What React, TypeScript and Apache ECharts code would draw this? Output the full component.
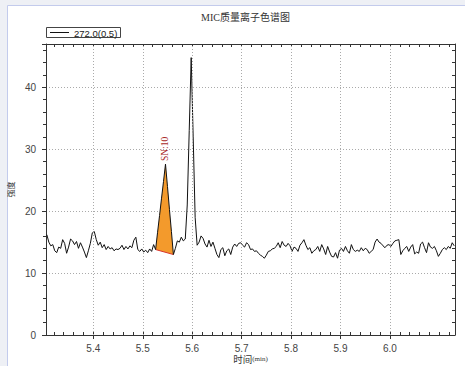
import React, { useEffect, useRef } from "react";
import * as echarts from "echarts";

const CHART_TITLE = "MIC质量离子色谱图";
const LEGEND_LABEL = "272.0(0.5)";
const X_NAME_MAIN = "时间";
const X_NAME_UNIT = "(min)";
const Y_NAME = "强度";
const PEAK_LABEL = "SN:10";

const X_MIN = 5.3043;
const X_MAX = 6.1316;
const Y_MIN = 0;
const Y_MAX = 47;
const X_MAJOR = [5.4, 5.5, 5.6, 5.7, 5.8, 5.9, 6.0];
const X_MINOR = [
  5.32, 5.34, 5.36, 5.38, 5.42, 5.44, 5.46, 5.48, 5.52, 5.54, 5.56, 5.58,
  5.62, 5.64, 5.66, 5.68, 5.72, 5.74, 5.76, 5.78, 5.82, 5.84, 5.86, 5.88,
  5.92, 5.94, 5.96, 5.98, 6.02, 6.04, 6.06, 6.08, 6.1, 6.12,
];

// sampled signal: time of first sample and sampling step (min)
const TIME_START = 5.306;
const TIME_STEP = 0.004;
const INTENSITY = [
  16.2, 15.0, 14.4, 14.6, 13.6, 13.3, 14.2, 14.0, 15.4, 14.8,
  13.2, 14.2, 15.5, 15.2, 14.6, 15.1, 14.0, 14.9, 14.2, 13.4,
  12.5, 13.6, 14.8, 16.5, 16.7, 15.4, 14.5, 15.0, 14.1, 14.6,
  13.8, 14.3, 13.9, 14.1, 13.6, 13.9, 13.8, 14.0, 14.5, 13.8,
  14.3, 13.9, 14.4, 14.1, 15.3, 15.8, 13.8, 13.5, 13.9, 13.4,
  13.7, 13.3, 13.9, 13.5, 14.6, 13.8, 16.6, 19.3, 22.1, 24.8,
  27.6, 24.0, 20.3, 16.7, 13.0, 14.0, 15.2, 15.0, 15.8, 15.2,
  15.5, 21.0, 33.0, 44.8, 32.0, 19.0, 14.5, 15.0, 16.0, 15.6,
  14.7, 14.2, 15.3, 14.3, 15.0, 14.0, 13.0, 12.5, 13.8, 14.1,
  12.8, 13.6, 13.9, 13.0, 14.2, 14.7, 14.3, 14.8, 14.9, 14.5,
  14.2, 14.9, 14.6, 13.8, 13.9, 13.5, 13.6, 13.2, 12.9, 12.7,
  12.4, 12.9, 13.5, 13.6, 13.9, 14.0, 14.3, 14.9, 14.1, 15.1,
  14.5, 14.3, 14.8, 14.4, 13.5, 14.2, 14.0, 13.5, 14.5, 14.9,
  15.4, 14.5, 13.8, 14.1, 13.2, 13.6, 13.8, 14.3, 13.5, 14.6,
  13.9, 13.0, 14.3, 13.4, 12.7, 12.6, 13.3, 12.4, 13.7, 14.0,
  13.5, 14.3, 13.6, 13.2, 14.6, 13.8, 13.5, 13.7, 13.5, 14.1,
  13.6, 14.0, 13.8, 13.2, 13.5, 13.8, 15.0, 15.5, 15.0, 14.8,
  14.4, 14.1, 14.5, 14.6, 14.3, 14.8, 15.2, 15.3, 15.4, 13.0,
  13.6, 14.0, 14.3, 13.5, 14.2, 14.6, 13.1, 13.4, 13.2, 14.7,
  15.0, 14.1, 13.3, 14.9, 14.2, 14.0, 14.3, 13.6, 12.7, 13.2,
  13.8, 14.1, 13.8, 14.3, 14.0, 14.9, 14.4,
];

// integrated peak (sample indices)
const SN_START = 55;
const SN_APEX = 60;
const SN_END = 64;

const AXIS_COLOR = "#333";
const LABEL_FONT = "Liberation Sans, Arial, sans-serif";

export default function App() {
  const ref = useRef<HTMLDivElement>(null);

  useEffect(() => {
    if (!ref.current) return;
    const chart = echarts.init(ref.current, null, { renderer: "svg" });
    const seriesData = INTENSITY.map((v, i) => [TIME_START + i * TIME_STEP, v]);
    const apexT = TIME_START + SN_APEX * TIME_STEP;

    const xBase = {
      type: "value",
      min: X_MIN,
      max: X_MAX,
      splitLine: { show: false },
    };
    const yBase = {
      type: "value",
      min: Y_MIN,
      max: Y_MAX,
      interval: 10,
    };

    chart.setOption({
      animation: false,
      backgroundColor: "#eef0f5",
      title: {
        text: CHART_TITLE,
        left: 196,
        top: 7,
        textStyle: {
          fontSize: 10,
          fontWeight: "normal",
          color: "#333",
          fontFamily: "Liberation Serif, Noto Sans CJK SC, serif",
        },
      },
      graphic: [
        {
          type: "rect",
          z: -100,
          silent: true,
          shape: { x: 7.5, y: 5.5, width: 470, height: 370 },
          style: { fill: "#ffffff", stroke: "#c3cbec", lineWidth: 1 },
        },
        {
          type: "group",
          silent: true,
          children: [
            {
              type: "rect",
              shape: { x: 46.5, y: 27.5, width: 74, height: 10 },
              style: { fill: "#fff", stroke: "#444", lineWidth: 1 },
            },
            {
              type: "line",
              shape: { x1: 50, y1: 32.5, x2: 69, y2: 32.5 },
              style: { stroke: "#111", lineWidth: 1 },
            },
            {
              type: "text",
              x: 74,
              y: 33,
              style: {
                text: LEGEND_LABEL,
                font: "9.5px " + LABEL_FONT,
                fill: "#222",
                verticalAlign: "middle",
                align: "left",
              },
            },
          ],
        },
      ],
      grid: {
        left: 46,
        top: 44,
        right: 10,
        bottom: 31,
        containLabel: false,
        outerBoundsMode: "none",
      },
      xAxis: [
        {
          ...xBase,
          position: "bottom",
          name: `{a|${X_NAME_MAIN}}{b|${X_NAME_UNIT}}`,
          nameLocation: "middle",
          nameGap: 19,
          nameMoveOverlap: false,
          nameTextStyle: {
            lineHeight: 10,
            rich: {
              a: { fontSize: 9.5, lineHeight: 10, color: "#333", fontFamily: "Noto Sans CJK SC" },
              b: { fontSize: 7, lineHeight: 10, color: "#333", fontFamily: "Liberation Serif" },
            },
          },
          axisLine: { show: true, lineStyle: { color: AXIS_COLOR, width: 1 } },
          axisTick: {
            show: true,
            customValues: X_MAJOR,
            length: 4,
            inside: false,
            lineStyle: { color: AXIS_COLOR },
          },
          axisLabel: {
            customValues: X_MAJOR,
            formatter: (v: number) => v.toFixed(1),
            fontSize: 10,
            lineHeight: 10,
            color: "#444",
            fontFamily: LABEL_FONT,
            margin: 8,
          },
        },
        {
          ...xBase,
          position: "bottom",
          axisLine: { show: false },
          axisTick: {
            show: true,
            customValues: X_MINOR.concat(X_MAJOR),
            length: 3,
            inside: true,
            lineStyle: { color: AXIS_COLOR },
          },
          axisLabel: { show: false },
        },
        {
          ...xBase,
          position: "top",
          axisLine: { show: true, lineStyle: { color: AXIS_COLOR, width: 1 } },
          axisTick: {
            show: true,
            customValues: X_MINOR.concat(X_MAJOR),
            length: 3,
            inside: true,
            lineStyle: { color: AXIS_COLOR },
          },
          axisLabel: { show: false },
        },
      ],
      yAxis: [
        {
          ...yBase,
          position: "left",
          name: Y_NAME,
          nameLocation: "middle",
          nameGap: 32,
          nameRotate: 90,
          nameMoveOverlap: false,
          nameTextStyle: { fontSize: 8, color: "#333", fontFamily: "Noto Sans CJK SC" },
          axisLine: { show: true, lineStyle: { color: AXIS_COLOR, width: 1 } },
          axisTick: { show: true, length: 4, inside: false, lineStyle: { color: AXIS_COLOR } },
          minorTick: { show: true, splitNumber: 5, length: 3, lineStyle: { color: AXIS_COLOR } },
          axisLabel: {
            fontSize: 10,
            color: "#444",
            fontFamily: LABEL_FONT,
            margin: 10,
            showMaxLabel: false,
          },
          splitLine: {
            show: true,
            lineStyle: { color: "#aaa", type: [1, 2], width: 1 },
          },
        },
        {
          ...yBase,
          position: "right",
          axisLine: { show: true, lineStyle: { color: AXIS_COLOR, width: 1 } },
          axisTick: { show: true, length: 4, inside: true, lineStyle: { color: AXIS_COLOR } },
          minorTick: { show: true, splitNumber: 5, length: 3, lineStyle: { color: AXIS_COLOR } },
          axisLabel: { show: false },
          splitLine: { show: false },
        },
      ],
      series: [
        {
          type: "custom",
          xAxisIndex: 0,
          yAxisIndex: 0,
          z: 1,
          silent: true,
          data: [[apexT, INTENSITY[SN_APEX]]],
          renderItem: (_params: any, api: any) => {
            const pts: number[][] = [];
            for (let i = SN_START; i <= SN_END; i++) {
              pts.push(api.coord([TIME_START + i * TIME_STEP, INTENSITY[i]]));
            }
            const apex = api.coord([apexT, INTENSITY[SN_APEX]]);
            const first = pts[0];
            const last = pts[pts.length - 1];
            return {
              type: "group",
              children: [
                {
                  type: "polygon",
                  shape: { points: pts },
                  style: { fill: "#F39A2C", stroke: "none" },
                },
                {
                  type: "line",
                  shape: { x1: first[0], y1: first[1], x2: last[0], y2: last[1] },
                  style: { stroke: "#D8342A", lineWidth: 1 },
                },
                {
                  type: "text",
                  x: apex[0],
                  y: apex[1] - 3,
                  rotation: Math.PI / 2,
                  style: {
                    text: PEAK_LABEL,
                    fill: "#a82828",
                    font: "9.5px Liberation Serif, serif",
                    align: "left",
                    verticalAlign: "middle",
                  },
                },
              ],
            };
          },
        },
        {
          type: "line",
          xAxisIndex: 0,
          yAxisIndex: 0,
          z: 3,
          data: seriesData,
          symbol: "none",
          showSymbol: false,
          lineStyle: { color: "#111", width: 1 },
          markLine: {
            silent: true,
            symbol: ["none", "none"],
            label: { show: false },
            lineStyle: { color: "#aaa", type: [1, 2], width: 1 },
            data: X_MAJOR.map((x) => ({ xAxis: x })),
          },
        },
      ],
    });

    return () => chart.dispose();
  }, []);

  return (
    <div
      ref={ref}
      style={{ position: "fixed", left: 0, top: 0, width: 465, height: 366 }}
    />
  );
}
